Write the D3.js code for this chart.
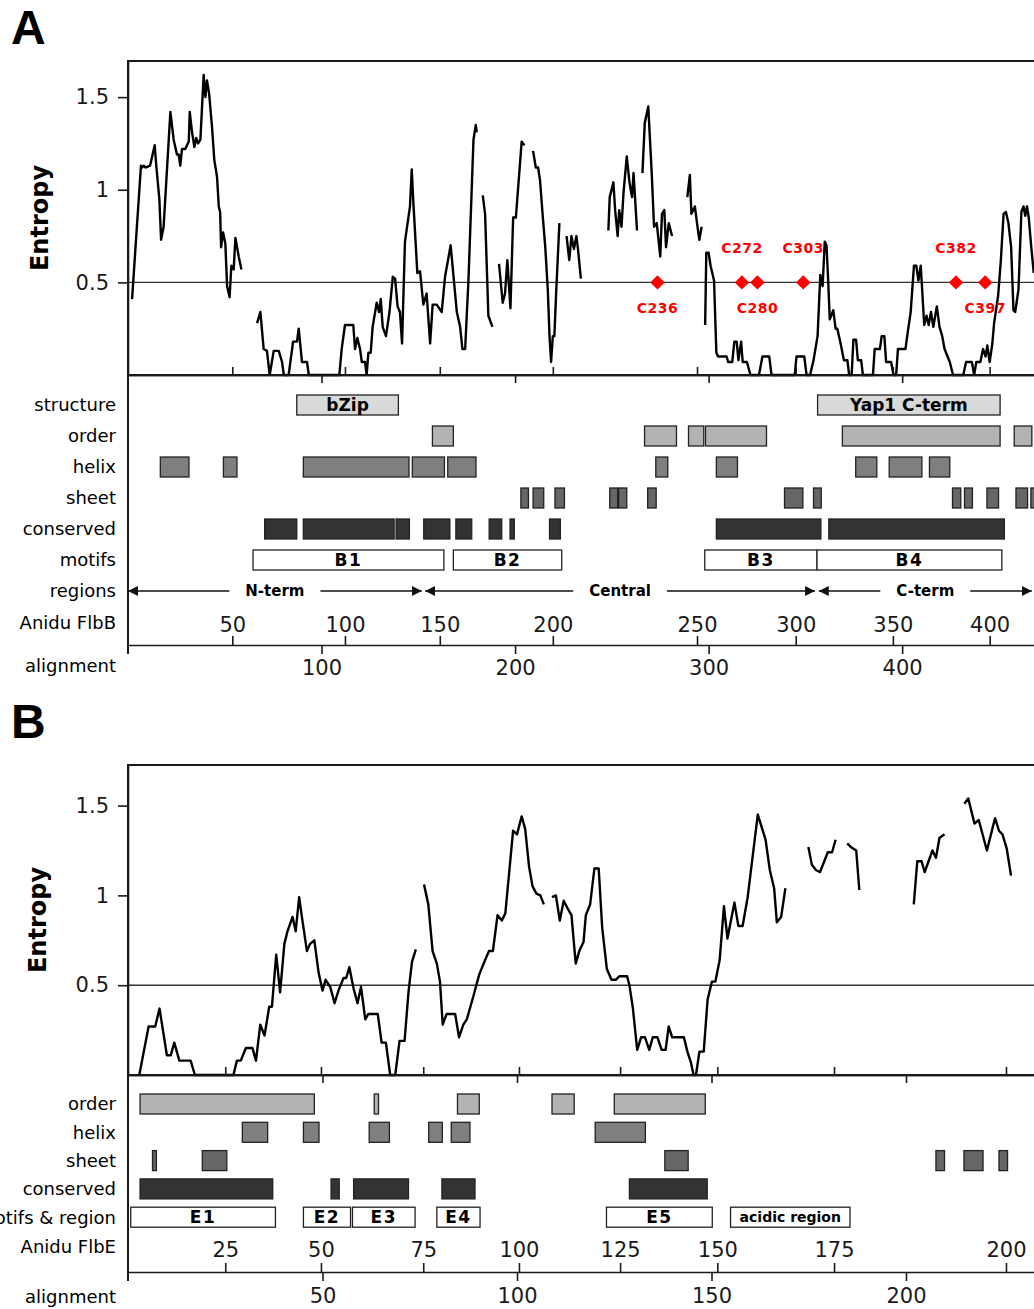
<!DOCTYPE html>
<html>
<head>
<meta charset="utf-8">
<script src="https://cdnjs.cloudflare.com/ajax/libs/d3/7.8.5/d3.min.js"></script>
<style>
  body { margin: 0; background: #fff; }
  svg { display: block; font-family: "DejaVu Sans", sans-serif; }
</style>
</head>
<body>
<div id="chart"></div>
<script>
//---------------- Panel A data (x = alignment position) ----------------
// entropy, null = gap in the alignment
var entropyA = [
  [2.1,0.41],[6.7,1.13],[7.3,1.12],[8.1,1.13],[9.0,1.12],[11.4,1.13],[13.8,1.24],[14.6,1.13],[16.2,0.95],[17.1,0.73],
  [18.4,0.80],[21.9,1.42],[23.6,1.27],[25.3,1.19],[26.2,1.19],[27.0,1.13],[27.9,1.22],[29.6,1.22],[31.4,1.26],[31.9,1.42],
  [33.1,1.31],[34.3,1.23],[35.2,1.28],[36.2,1.25],[37.4,1.27],[39.1,1.62],[40.0,1.50],[40.8,1.59],[41.9,1.52],[43.4,1.34],
  [44.6,1.16],[46.0,1.07],[46.9,0.91],[47.6,0.88],[48.1,0.69],[49.1,0.77],[50.3,0.71],[51.2,0.48],[52.5,0.42],[53.4,0.59],
  [54.6,0.57],[55.5,0.74],[57.2,0.64],[58.6,0.57],
  null,
  [66.7,0.28],[68.4,0.34],[70.1,0.14],[71.8,0.13],[73.2,0],[75.3,0.13],[77.9,0.13],[79.6,0.07],[80.5,0],[83.0,0],
  [85.3,0.18],[87.3,0.18],[88.2,0.25],[89.9,0.07],[92.5,0.07],[93.4,0],[109.2,0],[110.4,0.14],[112.1,0.27],[116.4,0.27],
  [117.3,0.14],[118.5,0.20],[119.9,0.14],[120.8,0.07],[122.5,0.07],[123.3,0],[124.2,0.12],[125.4,0.12],[126.4,0.26],[128.5,0.39],
  [129.7,0.34],[130.6,0.41],[131.6,0.26],[133.3,0.21],[135.1,0.34],[136.8,0.53],[138.0,0.52],[139.3,0.37],[140.5,0.34],[141.6,0.17],
  [143.1,0.72],[145.7,0.91],[146.6,1.11],[147.4,0.94],[149.5,0.55],[150.9,0.56],[152.6,0.38],[154.3,0.44],[156.1,0.17],[157.4,0.38],
  [159.5,0.38],[162.1,0.34],[163.8,0.53],[166.7,0.70],[169.9,0.34],[171.6,0.26],[172.8,0.14],[174.2,0.14],[175.9,0.51],[178.5,1.27],
  [179.7,1.35],[180.2,1.31],
  null,
  [183.3,0.97],[184.5,0.87],[186.2,0.32],[188.3,0.26],
  null,
  [191.7,0.60],[193.6,0.39],[194.8,0.44],[196.0,0.62],[197.6,0.36],[199.0,0.85],[200.4,0.85],[203.4,1.26],[204.8,1.24],
  null,
  [209.3,1.21],[210.7,1.12],[211.9,1.12],[212.9,1.05],[214.2,0.87],[215.6,0.69],[216.9,0.46],[217.8,0.21],[218.6,0.07],[219.5,0.21],
  [220.3,0.21],[221.2,0.44],[222.9,0.82],
  null,
  [226.6,0.75],[228.0,0.62],[229.1,0.75],[230.4,0.68],[231.7,0.75],[232.5,0.68],[234.0,0.52],
  null,
  [248.2,0.78],[248.9,0.96],[250.8,1.04],[251.7,0.89],[253.0,0.75],[253.8,0.89],[255.0,0.80],[256.0,0.98],[257.7,1.18],[259.1,1.04],
  [260.4,0.96],[261.2,1.09],[263.0,0.78],
  null,
  [265.8,1.09],[267.0,1.36],[268.8,1.45],[270.6,1.09],[271.8,0.80],[273.2,0.82],[275.0,0.64],[275.9,0.87],[277.1,0.89],[278.0,0.69],
  [279.4,0.82],[281.1,0.75],
  null,
  [289.0,0.96],[290.3,1.08],[291.1,0.87],[292.9,0.91],[294.0,0.82],[295.2,0.73],[296.4,0.80],
  null,
  [298.2,0.27],[298.8,0.66],[300.0,0.66],[301.0,0.59],[302.8,0.51],[304.0,0.12],[304.9,0.10],[309.3,0.10],[310.1,0.07],[312.2,0.07],
  [313.3,0.18],[314.5,0.18],[315.4,0.08],[316.8,0.18],[317.6,0.07],[319.8,0.07],[321.6,0],[326.0,0],[327.8,0.10],[331.3,0.10],
  [332.5,0],[344.5,0],[345.4,0.10],[349.4,0.10],[350.6,0],[352.4,0],[354.2,0.08],[356.3,0.21],[357.7,0.54],[358.9,0.48],
  [360.0,0.72],[360.9,0.70],[361.6,0.55],[362.6,0.30],[364.4,0.35],[365.6,0.25],[366.5,0.25],[368.2,0.17],[369.9,0.08],[371.7,0.08],
  [372.6,0],[373.9,0],[374.8,0.19],[376.2,0.19],[377.1,0.08],[378.8,0.08],[379.7,0],[384.9,0],[385.8,0.14],[388.5,0.14],
  [389.4,0.21],[390.8,0.21],[391.7,0.07],[394.3,0.07],[395.5,0],[396.9,0],[397.8,0.14],[401.7,0.14],[402.6,0.21],[404.4,0.34],
  [406.1,0.59],[407.3,0.59],[408.4,0.51],[409.6,0.59],[411.4,0.27],[412.6,0.32],[413.7,0.27],[414.9,0.34],[416.1,0.26],[417.9,0.37],
  [419.3,0.26],[420.7,0.21],[421.9,0.14],[424.6,0.07],[426.3,0],[431.6,0],[433.0,0.07],[436.0,0.07],[437.2,0],[438.3,0.07],
  [440.4,0.07],[441.8,0.14],[443.1,0.10],[444.0,0.16],[445.2,0.07],[446.6,0.17],[447.5,0.28],[449.6,0.43],[451.0,0.62],[452.4,0.87],
  [453.6,0.88],[454.9,0.82],[456.3,0.69],[457.5,0.35],[458.4,0.34],[460.1,0.46],[461.6,0.88],[462.7,0.91],[463.6,0.86],[464.5,0.91],
  [465.4,0.85],[466.7,0.69],[468.0,0.55]
];
var structureA = [[87.2,139.7,"bZip"],[356.3,450.6,"Yap1 C-term"]];
var orderA = [[157.3,168.1],[266.9,283.4],[289.6,297.5],[298.4,329.9],[369.1,450.6],[457.9,467.0]];
var helixA = [[16.7,31.5],[49.3,56.3],[90.6,145.2],[146.9,163.5],[165.2,179.8],[272.7,278.9],[304.0,314.9],[376.0,386.9],[393.3,410.2],[414.1,424.6]];
var sheetA = [[203.0,206.9],[209.3,214.8],[220.6,225.5],[248.9,253.0],[253.5,257.7],[268.5,272.9],[339.2,348.7],[354.2,358.2],[426.0,430.3],[432.2,436.3],[443.8,449.8],[458.8,464.8],[466.5,472.0]];
var conservedA = [[70.6,87.2],[90.6,137.5],[138.5,145.4],[152.8,166.3],[169.4,177.6],[186.6,193.1],[197.4,199.6],[217.8,223.4],[304.0,358.0],[362.1,452.8]];
var motifsA = [[64.6,163.2,"B1"],[168.1,224.1,"B2"],[298.0,356.0,"B3"],[356.0,451.5,"B4"]];
var regionsA = [[0,151.8,"N-term"],[153.5,355.0,"Central"],[356.9,467.0,"C-term"]];
var cysPos = [273.6,317.2,325.2,348.9,427.8,442.9];
var cysLabels = ["C236","C272","C280","C303","C382","C397"];
var alignTicksA = [100,200,300,400];
var flbbTickPos = [53.9,112.1,161.1,219.5,294.0,345.0,395.2,445.2];
var flbbTickLabels = ["50","100","150","200","250","300","350","400"];

//---------------- Panel B data ----------------
var entropyB = [
  [2.9,0],[5.3,0.27],[7.0,0.27],[8.1,0.37],[10.0,0.11],[11.0,0.11],[11.9,0.18],[13.2,0.08],[16.1,0.08],[17.2,0],
  [27.1,0],[28.0,0.08],[29.0,0.08],[30.3,0.15],[32.0,0.15],[32.9,0.08],[34.0,0.28],[35.1,0.22],[36.3,0.38],[37.0,0.38],
  [38.1,0.67],[39.1,0.46],[40.2,0.73],[41.0,0.80],[42.3,0.88],[43.1,0.80],[44.0,0.99],[44.7,0.88],[46.0,0.69],[46.8,0.73],
  [47.9,0.75],[49.0,0.57],[50.0,0.47],[50.8,0.53],[52.0,0.49],[53.1,0.40],[54.1,0.47],[55.4,0.54],[56.1,0.54],[56.9,0.60],
  [58.0,0.48],[59.0,0.40],[59.9,0.49],[61.0,0.31],[61.8,0.34],[64.2,0.34],[65.2,0.18],[66.3,0.18],[67.4,0],[68.7,0],
  [69.8,0.19],[71.1,0.19],[72.1,0.46],[73.0,0.63],[74.0,0.70],
  null,
  [76.1,1.06],[77.2,0.95],[78.3,0.69],[79.4,0.62],[80.2,0.52],[80.9,0.28],[81.9,0.34],[84.1,0.34],[85.1,0.21],[86.2,0.28],
  [87.1,0.31],[88.8,0.44],[90.3,0.56],[91.8,0.64],[92.8,0.69],[93.8,0.69],[95.0,0.89],[96.1,0.86],[97.0,0.90],[99.0,1.36],
  [100.0,1.34],[101.2,1.44],[102.1,1.37],[103.1,1.16],[104.0,1.05],[105.0,1.01],[106.0,1.00],[106.9,0.95],
  null,
  [109.0,0.99],[110.0,1.00],[111.0,0.86],[112.0,0.97],[113.2,0.92],[114.0,0.89],[115.1,0.62],[116.0,0.69],[117.1,0.74],[117.7,0.89],
  [118.8,0.95],[119.9,1.15],[121.0,1.15],[121.9,0.82],[123.1,0.59],[124.3,0.53],[125.4,0.53],[126.3,0.55],[128.3,0.55],[128.9,0.50],
  [129.8,0.37],[130.9,0.14],[131.9,0.21],[132.9,0.21],[134.0,0.14],[134.9,0.21],[136.1,0.21],[137.2,0.14],[138.2,0.14],[139.0,0.27],
  [139.9,0.21],[142.9,0.21],[143.8,0.13],[144.7,0.07],[145.4,0],[146.0,0],[146.9,0.13],[148.0,0.13],[149.0,0.42],[150.1,0.52],
  [151.0,0.52],[152.1,0.64],[153.2,0.94],[154.1,0.76],[155.9,0.96],[156.9,0.83],[158.0,0.83],[159.3,0.99],[161.9,1.45],[163.9,1.31],
  [165.0,1.14],[166.1,1.04],[166.8,0.85],[167.9,0.88],[169.0,1.04],
  null,
  [174.9,1.27],[175.8,1.17],[176.9,1.14],[177.9,1.13],[179.9,1.24],[181.0,1.24],[181.9,1.31],
  null,
  [184.9,1.29],[185.8,1.27],[187.2,1.25],[188.0,1.03],
  null,
  [202.0,0.95],[202.9,1.19],[204.0,1.19],[204.8,1.13],[205.8,1.19],[206.8,1.25],[207.7,1.21],[208.6,1.32],[209.9,1.34],
  null,
  [215.0,1.51],[216.0,1.54],[217.6,1.40],[218.7,1.42],[220.8,1.25],[222.9,1.43],[223.9,1.36],[224.8,1.34],[225.9,1.26],[227.0,1.11]
];
var orderB = [[3.1,47.9],[63.3,64.4],[84.7,90.3],[109.0,114.7],[125.0,148.4]];
var helixB = [[29.4,35.9],[45.1,49.1],[62.0,67.2],[77.3,80.8],[83.1,87.9],[120.1,133.0]];
var sheetB = [[6.3,7.3],[19.1,25.4],[138.0,144.0],[207.7,209.9],[214.9,219.8],[223.9,226.1]];
var conservedB = [[3.1,37.2],[52.2,54.3],[58.0,72.1],[80.7,89.2],[128.9,148.9]];
var motifsB = [[0.7,37.9,"E1"],[45.1,57.2,"E2"],[57.7,73.8,"E3"],[79.4,90.5,"E4"],[123.0,150.2,"E5"],[154.9,185.6,"acidic region"]];
var alignTicksB = [50,100,150,200];
var flbeTickPos = [25.0,49.6,75.9,100.5,126.5,151.5,181.5,225.7];
var flbeTickLabels = ["25","50","75","100","125","150","175","200"];

//---------------- SVG ----------------
var svgWidth = 1034;
var svgHeight = 1309;
var left = 128;

var svg = d3.select("#chart")
  .append("svg")
  .attr("width", svgWidth)
  .attr("height", svgHeight);

// arrow head for the region lines
svg.append("defs").append("marker")
  .attr("id", "arrow")
  .attr("markerUnits", "userSpaceOnUse")
  .attr("markerWidth", 11)
  .attr("markerHeight", 11)
  .attr("refX", 10)
  .attr("refY", 5)
  .attr("orient", "auto")
  .append("path")
  .attr("d", "M0,0 L10,5 L0,10 Z")
  .attr("fill", "#111");

var fills = {
  structure: "#d9d9d9",
  order: "#b3b3b3",
  helix: "#7f7f7f",
  sheet: "#666666",
  conserved: "#333333",
  motifs: "#ffffff"
};

function styleAxis(g, size) {
  g.attr("font-family", "DejaVu Sans, sans-serif")
    .attr("font-size", size)
    .attr("color", "#1a1a1a");
  g.selectAll("line").attr("stroke-width", 1.6);
  g.selectAll("path").attr("stroke-width", 1.6);
}

// draws one panel: entropy plot on top, annotation rows below
function drawPanel(p) {
  var x = p.x, y = p.y;
  var right = x.range()[1];

  // panel letter
  svg.append("text")
    .attr("x", 11)
    .attr("y", p.letterY)
    .attr("font-family", "Liberation Sans, Arial, sans-serif")
    .attr("font-weight", "bold")
    .attr("font-size", 48)
    .text(p.letter);

  // entropy box
  svg.append("rect")
    .attr("x", left)
    .attr("y", p.top)
    .attr("width", right - left)
    .attr("height", p.plotBottom - p.top)
    .attr("fill", "none")
    .attr("stroke", "#1a1a1a")
    .attr("stroke-width", 2);

  // 0.5 threshold line
  svg.append("line")
    .attr("x1", left)
    .attr("x2", right)
    .attr("y1", y(0.5))
    .attr("y2", y(0.5))
    .attr("stroke", "#333")
    .attr("stroke-width", 1.4);

  // y axis
  var yAxis = d3.axisLeft(y)
    .tickValues([0.5, 1, 1.5])
    .tickFormat(d3.format("~g"))
    .tickSize(10)
    .tickSizeOuter(0)
    .tickPadding(9);
  svg.append("g")
    .attr("transform", `translate(${left},0)`)
    .call(yAxis)
    .call(styleAxis, 21);

  svg.append("text")
    .attr("transform", `translate(${p.entropyLabelX}, ${(p.top + p.plotBottom) / 2}) rotate(-90)`)
    .attr("text-anchor", "middle")
    .attr("font-weight", "bold")
    .attr("font-size", 24)
    .text("Entropy");

  // entropy line
  var line = d3.line()
    .defined(d => d !== null)
    .x(d => x(d[0]))
    .y(d => y(d[1]));
  svg.append("path")
    .datum(p.entropy)
    .attr("d", line)
    .attr("fill", "none")
    .attr("stroke", "#000")
    .attr("stroke-width", 2.4)
    .attr("stroke-linejoin", "round");

  // ticks on the line between plot and annotation
  svg.append("g")
    .attr("transform", `translate(0,${p.plotBottom})`)
    .call(d3.axisBottom(x).tickValues(p.alignTicks).tickSize(8).tickSizeOuter(0).tickFormat(""))
    .call(styleAxis, 21);
  svg.append("g")
    .attr("transform", `translate(0,${p.plotBottom})`)
    .call(d3.axisTop(x).tickValues(p.seqTickPos).tickSize(8).tickSizeOuter(0).tickFormat(""))
    .call(styleAxis, 21);

  // left line of the annotation area
  svg.append("line")
    .attr("x1", left)
    .attr("x2", left)
    .attr("y1", p.plotBottom)
    .attr("y2", p.axisY + 9)
    .attr("stroke", "#1a1a1a")
    .attr("stroke-width", 2);

  // annotation rows
  p.rows.forEach(function(row, i) {
    var cy = p.rowStart + i * p.rowStep;

    svg.append("text")
      .attr("x", 116)
      .attr("y", cy)
      .attr("dy", "0.35em")
      .attr("text-anchor", "end")
      .attr("font-size", 18)
      .text(row.name);

    if (row.kind === "regions") {
      row.bars.forEach(function(r) {
        var x0 = x(r[0]), x1 = x(r[1]), cx = (x0 + x1) / 2;
        var label = svg.append("text")
          .attr("x", cx)
          .attr("y", cy)
          .attr("dy", "0.35em")
          .attr("text-anchor", "middle")
          .attr("font-weight", "bold")
          .attr("font-size", 15)
          .text(r[2]);
        var w = label.node().getComputedTextLength();
        [[cx - w / 2 - 16, x0], [cx + w / 2 + 16, x1]].forEach(function(seg) {
          svg.append("line")
            .attr("x1", seg[0])
            .attr("x2", seg[1])
            .attr("y1", cy)
            .attr("y2", cy)
            .attr("stroke", "#111")
            .attr("stroke-width", 1.5)
            .attr("marker-end", "url(#arrow)");
        });
      });
      return;
    }

    var g = svg.append("g");
    g.selectAll("rect")
      .data(row.bars)
      .enter()
      .append("rect")
      .attr("x", d => x(d[0]))
      .attr("y", cy - 10)
      .attr("width", d => x(d[1]) - x(d[0]))
      .attr("height", 20)
      .attr("fill", fills[row.kind])
      .attr("stroke", "#222")
      .attr("stroke-width", 1.3);

    g.selectAll("text")
      .data(row.bars.filter(d => d[2]))
      .enter()
      .append("text")
      .attr("x", d => (x(d[0]) + x(d[1])) / 2)
      .attr("y", cy)
      .attr("dy", "0.36em")
      .attr("text-anchor", "middle")
      .attr("font-weight", "bold")
      .attr("font-size", 17)
      .attr("letter-spacing", d => d[2].length <= 2 ? 1.5 : 0)
      .text(d => d[2])
      .each(function(d) {
        // shrink labels that do not fit their box
        var boxW = x(d[1]) - x(d[0]);
        if (this.getComputedTextLength() > boxW - 8) d3.select(this).attr("font-size", 14);
      });
  });

  // sequence numbering above the bottom axis
  var seqAxis = d3.axisTop(x)
    .tickValues(p.seqTickPos)
    .tickFormat((d, i) => p.seqTickLabels[i])
    .tickSize(9)
    .tickSizeOuter(0)
    .tickPadding(p.seqPad);
  svg.append("g")
    .attr("transform", `translate(0,${p.axisY})`)
    .call(seqAxis)
    .call(styleAxis, 21)
    .select(".domain").remove();

  // alignment axis
  var alignAxis = d3.axisBottom(x)
    .tickValues(p.alignTicks)
    .tickFormat(d3.format("d"))
    .tickSize(9)
    .tickSizeOuter(0)
    .tickPadding(p.alignPad);
  svg.append("g")
    .attr("transform", `translate(0,${p.axisY})`)
    .call(alignAxis)
    .call(styleAxis, 21);

  svg.append("text")
    .attr("x", 116)
    .attr("y", p.seqLabelY)
    .attr("dy", "0.35em")
    .attr("text-anchor", "end")
    .attr("font-size", 18)
    .text(p.seqName);

  svg.append("text")
    .attr("x", 116)
    .attr("y", p.alignLabelY)
    .attr("dy", "0.35em")
    .attr("text-anchor", "end")
    .attr("font-size", 18)
    .text("alignment");
}

//---------------- Panel A ----------------
var xA = d3.scaleLinear().domain([0, 480]).range([left, 1057]);
var yA = d3.scaleLinear().domain([0, 1.695]).range([375, 61]);

drawPanel({
  letter: "A", letterY: 44,
  x: xA, y: yA, top: 61, plotBottom: 375, axisY: 645,
  entropy: entropyA, entropyLabelX: 48,
  rowStart: 405, rowStep: 31,
  rows: [
    {name: "structure", kind: "structure", bars: structureA},
    {name: "order", kind: "order", bars: orderA},
    {name: "helix", kind: "helix", bars: helixA},
    {name: "sheet", kind: "sheet", bars: sheetA},
    {name: "conserved", kind: "conserved", bars: conservedA},
    {name: "motifs", kind: "motifs", bars: motifsA},
    {name: "regions", kind: "regions", bars: regionsA}
  ],
  alignTicks: alignTicksA, seqTickPos: flbbTickPos, seqTickLabels: flbbTickLabels,
  seqName: "Anidu FlbB", seqLabelY: 623, alignLabelY: 666, seqPad: 4, alignPad: 6
});

// cysteine markers on the 0.5 line
var cysAbove = [false, true, false, true, true, false];
var cysG = svg.append("g");
cysG.selectAll("path")
  .data(cysPos)
  .enter()
  .append("path")
  .attr("d", d3.symbol().type(d3.symbolSquare).size(105))
  .attr("transform", d => `translate(${xA(d)},${yA(0.5)}) rotate(45)`)
  .attr("fill", "#ff0000");
cysG.selectAll("text")
  .data(cysPos)
  .enter()
  .append("text")
  .attr("x", d => xA(d))
  .attr("y", (d, i) => cysAbove[i] ? yA(0.5) - 34 : yA(0.5) + 26)
  .attr("dy", "0.35em")
  .attr("text-anchor", "middle")
  .attr("font-weight", "bold")
  .attr("font-size", 14)
  .attr("letter-spacing", 0.5)
  .attr("fill", "#ff0000")
  .text((d, i) => cysLabels[i]);

//---------------- Panel B ----------------
var xB = d3.scaleLinear().domain([0, 240]).range([left, 1061.6]);
var yB = d3.scaleLinear().domain([0, 1.726]).range([1075, 765]);

drawPanel({
  letter: "B", letterY: 738,
  x: xB, y: yB, top: 765, plotBottom: 1075, axisY: 1272,
  entropy: entropyB, entropyLabelX: 46,
  rowStart: 1104, rowStep: 28.3,
  rows: [
    {name: "order", kind: "order", bars: orderB},
    {name: "helix", kind: "helix", bars: helixB},
    {name: "sheet", kind: "sheet", bars: sheetB},
    {name: "conserved", kind: "conserved", bars: conservedB},
    {name: "motifs & region", kind: "motifs", bars: motifsB}
  ],
  alignTicks: alignTicksB, seqTickPos: flbeTickPos, seqTickLabels: flbeTickLabels,
  seqName: "Anidu FlbE", seqLabelY: 1247, alignLabelY: 1297, seqPad: 6, alignPad: 7
});
</script>
</body>
</html>
